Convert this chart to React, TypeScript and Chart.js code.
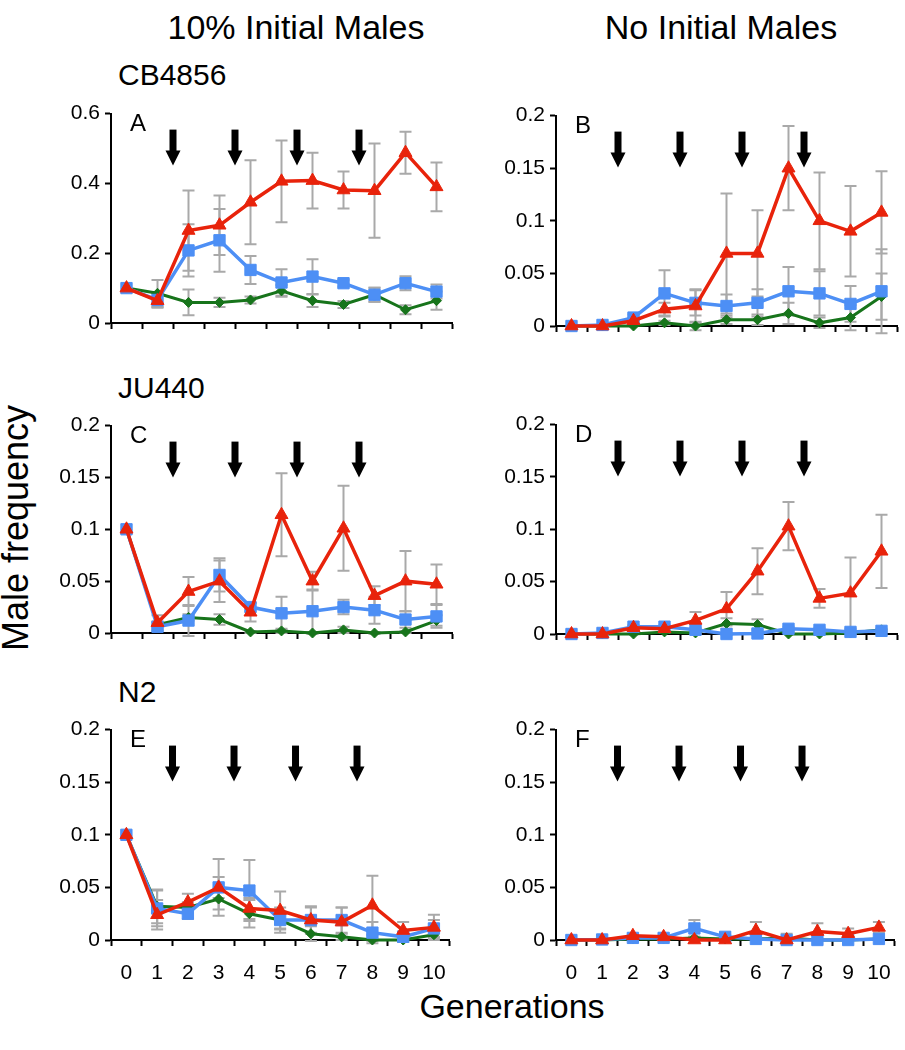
import React, { useEffect, useRef } from "react";
import { Chart, registerables } from "chart.js";

Chart.register(...registerables);

// ---------- data ----------
const generations = ["0", "1", "2", "3", "4", "5", "6", "7", "8", "9", "10"];
const yTicksA = [0, 0.2, 0.4, 0.6];
const yTicksSmall = [0, 0.05, 0.1, 0.15, 0.2];
const arrowSlots = [1.5, 3.5, 5.5, 7.5];

// Panel A (CB4856, 10% initial males)
const aRed = [0.1, 0.064, 0.265, 0.28, 0.346, 0.406, 0.408, 0.381, 0.379, 0.488, 0.39];
const aRedErr = [0, 0.02, 0.115, 0.085, 0.12, 0.117, 0.08, 0.053, 0.135, 0.06, 0.07];
const aBlue = [0.1, 0.066, 0.208, 0.237, 0.152, 0.116, 0.133, 0.114, 0.081, 0.114, 0.09];
const aBlueErr = [0, 0.02, 0.075, 0.09, 0.04, 0.038, 0.05, 0.01, 0.02, 0.02, 0.02];
const aGreen = [0.1, 0.085, 0.059, 0.059, 0.066, 0.092, 0.064, 0.053, 0.081, 0.038, 0.064];
const aGreenErr = [0, 0.038, 0.037, 0.013, 0.01, 0.017, 0.018, 0.01, 0.02, 0.013, 0.026];

// Panel B (CB4856, no initial males)
const bRed = [0, 0, 0.005, 0.016, 0.019, 0.069, 0.069, 0.15, 0.1, 0.09, 0.108];
const bRedErr = [0, 0, 0.003, 0.006, 0.016, 0.057, 0.041, 0.04, 0.046, 0.043, 0.039];
const bBlue = [0, 0.001, 0.008, 0.031, 0.022, 0.019, 0.022, 0.033, 0.031, 0.021, 0.033];
const bBlueErr = [0, 0, 0.003, 0.022, 0.012, 0.011, 0.013, 0.023, 0.021, 0.017, 0.04];
const bGreen = [0, 0, 0, 0.003, 0, 0.006, 0.006, 0.012, 0.003, 0.008, 0.028];
const bGreenErr = [0, 0, 0, 0.002, 0.004, 0.004, 0.005, 0.01, 0.005, 0.012, 0.022];

// Panel C (JU440, 10% initial males)
const cRed = [0.1, 0.01, 0.04, 0.05, 0.02, 0.114, 0.05, 0.101, 0.036, 0.05, 0.047];
const cRedErr = [0, 0.007, 0.014, 0.02, 0.009, 0.04, 0.009, 0.041, 0.009, 0.029, 0.019];
const cBlue = [0.1, 0.006, 0.012, 0.056, 0.025, 0.019, 0.021, 0.025, 0.022, 0.013, 0.016];
const cBlueErr = [0, 0.004, 0.015, 0.016, 0.004, 0.016, 0.021, 0.007, 0.013, 0.008, 0.011];
const cGreen = [0.1, 0.008, 0.015, 0.013, 0.001, 0.002, 0, 0.003, 0, 0.001, 0.012];
const cGreenErr = [0, 0.003, 0.003, 0.005, 0.001, 0.002, 0.001, 0.003, 0.001, 0.001, 0.005];

// Panel D (JU440, no initial males)
const dRed = [0, 0, 0.006, 0.005, 0.013, 0.024, 0.06, 0.103, 0.034, 0.039, 0.079];
const dRedErr = [0, 0, 0.002, 0.002, 0.008, 0.016, 0.022, 0.023, 0.009, 0.034, 0.035];
const dBlue = [0, 0.001, 0.007, 0.007, 0.004, 0, 0.0005, 0.005, 0.004, 0.002, 0.003];
const dBlueErr = [0, 0, 0.001, 0.001, 0.002, 0.001, 0.001, 0.002, 0.002, 0.001, 0.001];
const dGreen = [0, 0, 0, 0.002, 0.001, 0.01, 0.009, 0, 0, 0.001, 0.004];
const dGreenErr = [0, 0, 0, 0.001, 0.001, 0.005, 0.005, 0, 0, 0.001, 0.001];

// Panel E (N2, 10% initial males)
const eRed = [0.1, 0.024, 0.036, 0.05, 0.03, 0.028, 0.019, 0.017, 0.033, 0.009, 0.012];
const eRedErr = [0, 0.014, 0.008, 0.01, 0.01, 0.018, 0.013, 0.014, 0.028, 0.008, 0.012];
const eBlue = [0.1, 0.03, 0.025, 0.05, 0.047, 0.019, 0.019, 0.019, 0.007, 0.003, 0.011];
const eBlueErr = [0, 0.017, 0.005, 0.027, 0.029, 0.012, 0.012, 0.012, 0.01, 0.005, 0.008];
const eGreen = [0.1, 0.032, 0.031, 0.039, 0.025, 0.019, 0.006, 0.003, 0, 0, 0.005];
const eGreenErr = [0, 0.016, 0.005, 0.01, 0.013, 0.008, 0.007, 0.003, 0.001, 0.001, 0.003];

// Panel F (N2, no initial males)
const fRed = [0, 0, 0.004, 0.003, 0, 0, 0.009, 0, 0.008, 0.006, 0.012];
const fRedErr = [0, 0, 0.001, 0.001, 0, 0, 0.008, 0.001, 0.008, 0.005, 0.005];
const fBlue = [0, 0.0005, 0.002, 0.002, 0.011, 0.003, 0.001, 0, 0, 0, 0.001];
const fBlueErr = [0, 0, 0.001, 0.001, 0.008, 0.002, 0.001, 0, 0, 0, 0.001];
const fGreen = [0, 0, 0.001, 0.001, 0.002, 0.001, 0.001, 0.002, 0, 0, 0.001];
const fGreenErr = [0, 0, 0, 0, 0.001, 0, 0, 0.004, 0, 0, 0];

// ---------- styles ----------
const RED = "#E8230B";
const BLUE = "#4D8FF5";
const GREEN = "#17741B";
const ERR = "#A9A9A9";
const FONT = "'Liberation Sans', Arial, Helvetica, sans-serif";

Chart.defaults.font.family = FONT;

const PAD_TOP = 16;
const PAD_RIGHT = 2;
const Y_W = 70;
const PLOT_W = 348;

const errorBarPlugin = {
  id: "errorBars",
  beforeDatasetsDraw(chart: any) {
    const ctx = chart.ctx;
    const ys = chart.scales.y;
    ctx.save();
    ctx.strokeStyle = ERR;
    ctx.lineWidth = 2;
    chart.data.datasets.forEach((ds: any, i: number) => {
      const meta = chart.getDatasetMeta(i);
      const errs: number[] = ds.errors || [];
      meta.data.forEach((pt: any, j: number) => {
        const e = errs[j];
        if (!e) return;
        const v = ds.data[j];
        const t = ys.getPixelForValue(v + e);
        const b = ys.getPixelForValue(v - e);
        const x = pt.x;
        ctx.beginPath();
        ctx.moveTo(x, t);
        ctx.lineTo(x, b);
        ctx.moveTo(x - 6, t);
        ctx.lineTo(x + 6, t);
        ctx.moveTo(x - 6, b);
        ctx.lineTo(x + 6, b);
        ctx.stroke();
      });
    });
    ctx.restore();
  },
};

const arrowPlugin = {
  id: "arrows",
  afterDraw(chart: any) {
    const { ctx, chartArea, scales } = chart;
    ctx.save();
    ctx.fillStyle = "#000";
    arrowSlots.forEach((s) => {
      const x = scales.x.getPixelForValue(s);
      const t = chartArea.top;
      ctx.fillRect(x - 3.5, t + 16, 7, 22);
      ctx.beginPath();
      ctx.moveTo(x - 7.5, t + 37);
      ctx.lineTo(x + 7.5, t + 37);
      ctx.lineTo(x, t + 52);
      ctx.closePath();
      ctx.fill();
    });
    ctx.restore();
  },
};

type PanelCfg = {
  letter: string;
  axisX: number;
  top: number;
  bottom: number;
  yMax: number;
  yTicks: number[];
  showX: boolean;
  red: number[];
  redErr: number[];
  blue: number[];
  blueErr: number[];
  green: number[];
  greenErr: number[];
};

const panels: PanelCfg[] = [
  { letter: "A", axisX: 111, top: 112, bottom: 323, yMax: 0.6, yTicks: yTicksA, showX: false, red: aRed, redErr: aRedErr, blue: aBlue, blueErr: aBlueErr, green: aGreen, greenErr: aGreenErr },
  { letter: "B", axisX: 556, top: 114, bottom: 326, yMax: 0.2, yTicks: yTicksSmall, showX: false, red: bRed, redErr: bRedErr, blue: bBlue, blueErr: bBlueErr, green: bGreen, greenErr: bGreenErr },
  { letter: "C", axisX: 111, top: 424, bottom: 633, yMax: 0.2, yTicks: yTicksSmall, showX: false, red: cRed, redErr: cRedErr, blue: cBlue, blueErr: cBlueErr, green: cGreen, greenErr: cGreenErr },
  { letter: "D", axisX: 556, top: 423, bottom: 634, yMax: 0.2, yTicks: yTicksSmall, showX: false, red: dRed, redErr: dRedErr, blue: dBlue, blueErr: dBlueErr, green: dGreen, greenErr: dGreenErr },
  { letter: "E", axisX: 111, top: 728, bottom: 940, yMax: 0.2, yTicks: yTicksSmall, showX: true, red: eRed, redErr: eRedErr, blue: eBlue, blueErr: eBlueErr, green: eGreen, greenErr: eGreenErr },
  { letter: "F", axisX: 556, top: 728, bottom: 940, yMax: 0.2, yTicks: yTicksSmall, showX: true, red: fRed, redErr: fRedErr, blue: fBlue, blueErr: fBlueErr, green: fGreen, greenErr: fGreenErr },
];

function Panel({ cfg }: { cfg: PanelCfg }) {
  const ref = useRef<HTMLCanvasElement>(null);
  const xH = cfg.showX ? 52 : 22;
  const plotH = cfg.bottom - cfg.top;
  const W = Y_W + PLOT_W + PAD_RIGHT;
  const H = PAD_TOP + plotH + xH;

  useEffect(() => {
    if (!ref.current) return;
    const common = { tension: 0, clip: false as any, pointBorderWidth: 1 };
    const chart = new Chart(ref.current, {
      type: "line",
      data: {
        labels: generations,
        datasets: [
          { ...common, data: cfg.red, errors: cfg.redErr, borderColor: RED, backgroundColor: RED, pointBackgroundColor: RED, pointBorderColor: RED, pointStyle: "triangle", pointRadius: 7.5, borderWidth: 3.5 } as any,
          { ...common, data: cfg.blue, errors: cfg.blueErr, borderColor: BLUE, backgroundColor: BLUE, pointBackgroundColor: BLUE, pointBorderColor: BLUE, pointStyle: "rect", pointRadius: 8, borderWidth: 3.5 } as any,
          { ...common, data: cfg.green, errors: cfg.greenErr, borderColor: GREEN, backgroundColor: GREEN, pointBackgroundColor: GREEN, pointBorderColor: GREEN, pointStyle: "rectRot", pointRadius: 5, borderWidth: 3 } as any,
        ],
      },
      options: {
        animation: false,
        responsive: false,
        events: [],
        layout: { padding: { top: PAD_TOP, right: PAD_RIGHT, left: 0, bottom: 0 } },
        plugins: { legend: { display: false }, tooltip: { enabled: false } },
        scales: {
          x: {
            type: "category",
            offset: true,
            grid: { offset: true, drawOnChartArea: false, tickLength: 6, tickWidth: 2, tickColor: "#000" },
            border: { color: "#000", width: 2 },
            ticks: { display: cfg.showX, color: "#000", font: { family: FONT, size: 21 }, padding: 15, maxRotation: 0, autoSkip: false },
            afterFit: (s: any) => {
              s.height = xH;
            },
          },
          y: {
            min: 0,
            max: cfg.yMax,
            afterBuildTicks: (s: any) => {
              s.ticks = cfg.yTicks.map((v) => ({ value: v }));
            },
            grid: { drawOnChartArea: false, tickLength: 6, tickWidth: 2, tickColor: "#000" },
            border: { color: "#000", width: 2 },
            ticks: {
              color: "#000",
              font: { family: FONT, size: 21 },
              padding: 5,
              callback: (v: any) => String(+Number(v).toFixed(2)),
            },
            afterFit: (s: any) => {
              s.width = Y_W;
            },
          },
        },
      } as any,
      plugins: [errorBarPlugin, arrowPlugin],
    });
    return () => chart.destroy();
  }, []);

  return (
    <canvas
      ref={ref}
      width={W}
      height={H}
      style={{ position: "absolute", left: cfg.axisX - Y_W, top: cfg.top - PAD_TOP, width: W, height: H }}
    />
  );
}

const textBase: React.CSSProperties = {
  position: "absolute",
  fontFamily: FONT,
  color: "#000",
  lineHeight: 1,
  whiteSpace: "nowrap",
};

export default function App() {
  return (
    <div style={{ position: "absolute", left: 0, top: 0, width: 905, height: 1050, overflow: "hidden", background: "#fff" }}>
      <div style={{ ...textBase, fontSize: 34, left: 296, top: 27, transform: "translate(-50%, -50%)" }}>10% Initial Males</div>
      <div style={{ ...textBase, fontSize: 34, left: 721, top: 27, transform: "translate(-50%, -50%)" }}>No Initial Males</div>

      <div style={{ ...textBase, fontSize: 30, left: 118, top: 75, transform: "translateY(-50%)" }}>CB4856</div>
      <div style={{ ...textBase, fontSize: 30, left: 118, top: 388, transform: "translateY(-50%)" }}>JU440</div>
      <div style={{ ...textBase, fontSize: 30, left: 118, top: 692, transform: "translateY(-50%)" }}>N2</div>

      <div style={{ ...textBase, fontSize: 36, left: 16, top: 528, transform: "translate(-50%, -50%) rotate(-90deg)" }}>Male frequency</div>
      <div style={{ ...textBase, fontSize: 34, left: 512, top: 1006, transform: "translate(-50%, -50%)" }}>Generations</div>

      {panels.map((p) => (
        <Panel key={p.letter} cfg={p} />
      ))}
      {panels.map((p) => (
        <div key={"l" + p.letter} style={{ ...textBase, fontSize: 24, left: p.axisX + 19, top: p.top + 11, transform: "translateY(-50%)" }}>
          {p.letter}
        </div>
      ))}
    </div>
  );
}
